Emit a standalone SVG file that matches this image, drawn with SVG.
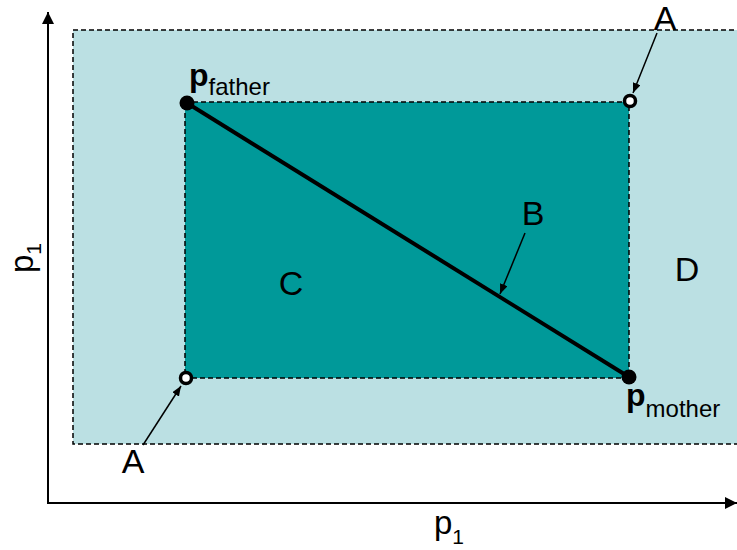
<svg xmlns="http://www.w3.org/2000/svg" width="737" height="550" viewBox="0 0 737 550">
<style>
.t{font-family:"Liberation Sans",Arial,sans-serif;fill:#000}
.big{font-size:34px}
.sub{font-size:24px}
.dash{stroke:#000;stroke-width:1.5;stroke-dasharray:5 3}
.ptr{stroke:#000;stroke-width:1.5;fill:none}
.axis{stroke:#000;stroke-width:2;fill:none}
</style>
<defs>
<marker id="ah" viewBox="0 0 10 8" refX="10" refY="4" markerWidth="10" markerHeight="8" markerUnits="userSpaceOnUse" orient="auto">
<path d="M0,0 L10,4 L0,8 Z" fill="#000"/>
</marker>
<marker id="ax" viewBox="0 0 12 12" refX="12" refY="6" markerWidth="12" markerHeight="12" markerUnits="userSpaceOnUse" orient="auto">
<path d="M0,0 L12,6 L0,12 Z" fill="#000"/>
</marker>
</defs>
<rect width="737" height="550" fill="#fff"/>
<g id="regionD">
<rect x="73" y="30" width="670" height="414" fill="#BBE0E3" class="dash"/>
<text class="t big" x="687" y="281" text-anchor="middle">D</text>
</g>
<g id="regionC">
<rect x="185" y="102" width="444" height="276" fill="#009999" class="dash"/>
<text class="t big" x="291" y="295" text-anchor="middle">C</text>
</g>
<g id="axes">
<line class="axis" x1="48" y1="504" x2="48" y2="12" marker-end="url(#ax)"/>
<line class="axis" x1="47" y1="503" x2="737" y2="503" marker-end="url(#ax)"/>
<text class="t" font-size="33" transform="translate(33,273) rotate(-90)">p<tspan font-size="21" dy="8">1</tspan></text>
<text class="t" font-size="33" x="434" y="534">p<tspan font-size="21" dy="10">1</tspan></text>
</g>
<g id="connectors">
<line x1="187" y1="103" x2="629" y2="377" stroke="#000" stroke-width="4"/>
<line class="ptr" x1="657" y1="33" x2="633" y2="93" marker-end="url(#ah)"/>
<line class="ptr" x1="143" y1="445" x2="181" y2="386" marker-end="url(#ah)"/>
<line class="ptr" x1="525" y1="233" x2="500" y2="294" marker-end="url(#ah)"/>
</g>
<g id="pfather">
<circle cx="187" cy="103" r="7.5" fill="#000"/>
<text class="t" x="189" y="86"><tspan font-size="32" font-weight="bold">p</tspan><tspan class="sub" dy="9">father</tspan></text>
</g>
<g id="pmother">
<circle cx="629" cy="377" r="7.5" fill="#000"/>
<text class="t" x="626" y="406"><tspan font-size="32" font-weight="bold">p</tspan><tspan class="sub" dy="11">mother</tspan></text>
</g>
<g id="cornerTR">
<circle cx="630" cy="101" r="5.5" fill="#fff" stroke="#000" stroke-width="3.5"/>
<text class="t big" x="665" y="30" text-anchor="middle">A</text>
</g>
<g id="cornerBL">
<circle cx="186" cy="378" r="5.5" fill="#fff" stroke="#000" stroke-width="3.5"/>
<text class="t big" x="133" y="473" text-anchor="middle">A</text>
</g>
<g id="lineB">
<text class="t big" x="533" y="225" text-anchor="middle">B</text>
</g>
</svg>
